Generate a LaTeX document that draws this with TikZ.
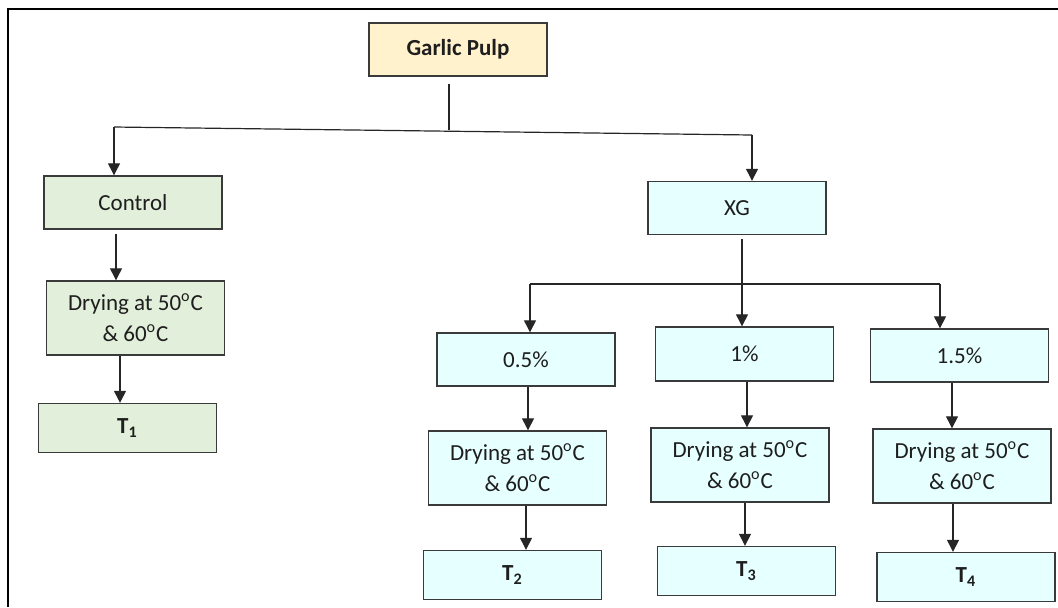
\documentclass[tikz,border=0pt]{standalone}
\usepackage{fontspec}
\setmainfont{Carlito}
\usetikzlibrary{arrows.meta}
\definecolor{boxline}{HTML}{3A3A3A}
\definecolor{yellowfill}{HTML}{FFF2CC}
\definecolor{greenfill}{HTML}{E2EFDA}
\definecolor{cyanfill}{HTML}{E6FFFF}
\definecolor{txt}{HTML}{1E1E1E}
\tikzset{
  base/.style={draw=boxline, line width=0.7pt, minimum width=89pt, inner sep=2pt,
    align=center, text=txt, font=\fontsize{11.5}{15.5}\selectfont},
  ybox/.style={base, fill=yellowfill, minimum height=26.5pt},
  gbox/.style={base, fill=greenfill},
  cbox/.style={base, fill=cyanfill},
  shortbox/.style={minimum height=26.5pt},
  tallbox/.style={minimum height=37pt},
  tbox/.style={minimum height=24.5pt},
  conn/.style={line width=0.6pt, black!85},
  arr/.style={conn, -{Triangle[width=6pt,length=6pt]}},
  frame/.style={line width=1pt, black}
}
\newcommand{\dgr}{\textsuperscript{o}}
\begin{document}
\begin{tikzpicture}[x=0.5pt,y=-0.5pt]
\useasboundingbox (0,0) rectangle (1058,607);
\draw[frame] (1058,9) -- (8,9) -- (8,607);

% nodes
\node[ybox, font=\fontsize{11.5}{15.5}\selectfont\bfseries] (garlic) at (458,49.5) {Garlic Pulp};
\node[gbox, shortbox] (control) at (133,202.5) {Control};
\node[gbox, tallbox] (d1) at (135.5,318) {Drying at 50\dgr C\\ \& 60\dgr C};
\node[gbox, tbox] (t1) at (127.5,428) {\textbf{T\textsubscript{1}}};

\node[cbox, shortbox] (xg) at (737,208) {XG};
\node[cbox, shortbox] (p05) at (526,359.5) {0.5\%};
\node[cbox, shortbox, minimum height=27pt] (p1) at (744.5,354) {1\%};
\node[cbox, shortbox] (p15) at (959.5,355.5) {1.5\%};
\node[cbox, tallbox] (d2) at (517.5,468) {Drying at 50\dgr C\\ \& 60\dgr C};
\node[cbox, tallbox] (d3) at (740,465) {Drying at 50\dgr C\\ \& 60\dgr C};
\node[cbox, tallbox] (d4) at (962,466) {Drying at 50\dgr C\\ \& 60\dgr C};
\node[cbox, tbox] (t2) at (512.5,575) {\textbf{T\textsubscript{2}}};
\node[cbox, tbox] (t3) at (746.5,571) {\textbf{T\textsubscript{3}}};
\node[cbox, tbox] (t4) at (966,577) {\textbf{T\textsubscript{4}}};

% top branching
\coordinate (lcorner) at (114,127);
\coordinate (rcorner) at (752,135);
\coordinate (hub) at (449,130.2);
\draw[conn] (lcorner) -- (rcorner);
\draw[conn, shorten <=3.5pt] (garlic.south -| hub) -- (hub);
\draw[arr] (lcorner) -- (lcorner |- control.north);
\draw[arr] (rcorner) -- (rcorner |- xg.north);

% control column
\draw[arr, shorten <=2pt] (control.south -| 116,0) -- (d1.north -| 116,0);
\draw[arr] (d1.south -| 120,0) -- (t1.north -| 120,0);

% XG branching
\coordinate (xhub) at (742,284);
\coordinate (xl) at (530,284);
\coordinate (xr) at (940,284);
\draw[conn, shorten <=2pt] (xg.south -| xhub) -- (xhub);
\draw[conn] (xl) -- (xr);
\draw[arr] (xl) -- (xl |- p05.north);
\draw[arr] (xhub) -- (xhub |- p1.north);
\draw[arr] (xr) -- (xr |- p15.north);

% XG columns
\draw[arr] (p05.south -| 528,0) -- (d2.north -| 528,0);
\draw[arr] (p1.south -| 747,0) -- (d3.north -| 747,0);
\draw[arr] (p15.south -| 952,0) -- (d4.north -| 952,0);
\draw[arr] (d2.south -| 526,0) -- (t2.north -| 526,0);
\draw[arr] (d3.south -| 745,0) -- (t3.north -| 745,0);
\draw[arr] (d4.south -| 953,0) -- (t4.north -| 953,0);
\end{tikzpicture}
\end{document}
